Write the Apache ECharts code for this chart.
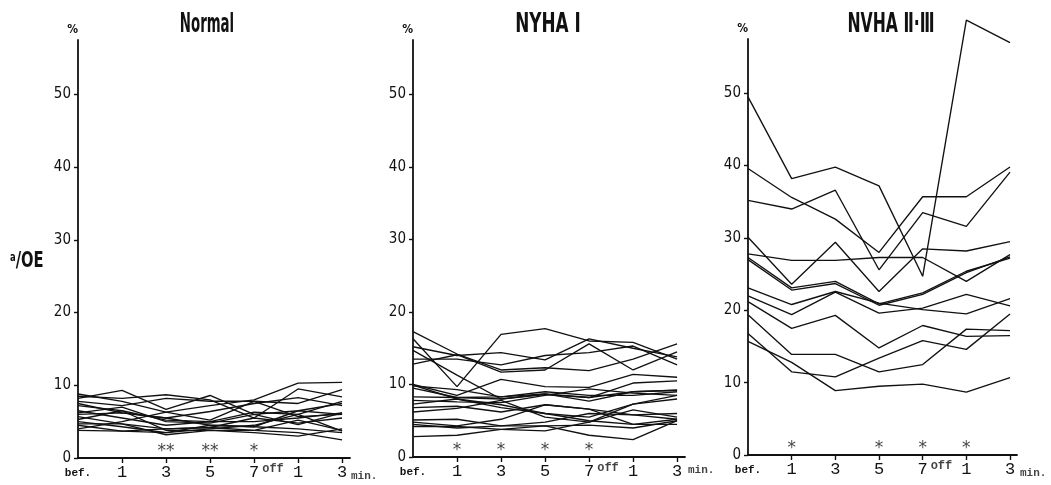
<!DOCTYPE html>
<html><head><meta charset="utf-8">
<script src="https://cdn.jsdelivr.net/npm/echarts@6/dist/echarts.min.js"></script>
<style>html,body{margin:0;padding:0;background:#fff}#c{width:1051px;height:485px}</style>
</head><body><div id="c"></div>
<script>
// ---- data ----
const xLabels = ['bef.', '1', '3', '5', '7', '1', '3'];
const yTicks = [0, 10, 20, 30, 40, 50];
const titles = ['Normal', 'NYHA Ⅰ', 'NVHA Ⅱ·Ⅲ'];
const yName = 'a/OE';

const normalLines = [
  [8.8, 7.8, 6.3, 7.2, 8.0, 10.3, 10.4],
  [8.2, 9.3, 6.7, 8.6, 6.0, 6.5, 7.5],
  [8.5, 8.2, 8.7, 8.0, 5.5, 9.5, 8.4],
  [7.8, 7.2, 8.2, 7.8, 7.8, 7.5, 9.4],
  [7.5, 6.2, 5.5, 6.4, 7.5, 8.3, 7.2],
  [7.2, 6.5, 5.2, 5.0, 6.3, 6.0, 7.8],
  [6.5, 5.5, 4.5, 5.0, 5.0, 5.5, 6.2],
  [6.0, 6.2, 5.5, 4.5, 4.3, 6.5, 6.0],
  [5.7, 4.7, 4.0, 4.2, 5.5, 4.8, 5.5],
  [5.3, 6.5, 3.8, 3.8, 3.8, 5.2, 3.8],
  [5.0, 4.3, 3.5, 4.5, 4.3, 4.0, 3.5],
  [4.7, 4.7, 3.2, 3.8, 3.5, 3.0, 4.0],
  [4.5, 3.7, 4.0, 4.2, 3.8, 3.5, 2.5],
  [4.0, 5.0, 6.3, 5.2, 7.8, 5.7, 6.0],
  [3.8, 3.7, 3.5, 4.0, 4.5, 6.0, 3.7],
  [6.2, 7.0, 5.0, 4.8, 6.0, 4.6, 6.2]
];
const nyha1Lines = [
  [16.3, 9.7, 16.9, 17.7, 16.0, 15.8, 13.5],
  [17.3, 14.2, 12.0, 12.3, 11.9, 13.5, 15.6],
  [15.2, 14.0, 14.4, 13.4, 16.3, 15.0, 13.8],
  [14.7, 11.3, 8.0, 8.6, 8.2, 9.0, 9.2],
  [13.5, 13.5, 12.7, 14.0, 14.4, 15.3, 12.7],
  [12.8, 14.1, 11.7, 12.0, 15.6, 12.0, 14.5],
  [10.0, 8.5, 10.7, 9.7, 9.6, 11.4, 11.0],
  [9.8, 9.3, 8.3, 8.7, 8.2, 10.2, 10.5],
  [9.5, 8.2, 8.0, 8.7, 7.7, 9.0, 9.2],
  [8.3, 8.2, 8.3, 9.0, 8.5, 8.5, 9.0],
  [7.8, 7.6, 7.5, 8.5, 9.4, 8.8, 8.5],
  [7.3, 8.0, 7.2, 6.0, 5.5, 7.3, 8.0],
  [6.8, 7.0, 6.2, 7.2, 6.6, 5.8, 6.0],
  [6.2, 6.7, 7.8, 5.5, 4.8, 6.5, 5.5],
  [9.9, 8.0, 6.8, 6.0, 5.0, 4.5, 5.2],
  [5.1, 5.2, 4.3, 4.8, 6.0, 5.8, 5.2],
  [4.8, 4.3, 5.2, 7.2, 6.6, 4.5, 4.5],
  [4.5, 4.0, 4.3, 4.3, 4.4, 4.0, 5.0],
  [4.2, 4.2, 3.8, 3.6, 4.8, 7.3, 8.5],
  [2.8, 3.0, 3.8, 4.3, 3.0, 2.4, 5.0]
];
const nyha23Lines = [
  [49.5, 38.2, 39.8, 37.2, 24.7, 60.1, 57.0],
  [39.6, 35.6, 32.6, 28.0, 35.7, 35.7, 39.8],
  [35.2, 34.0, 36.6, 25.6, 33.5, 31.6, 39.1],
  [30.1, 23.6, 29.4, 22.6, 28.5, 28.2, 29.5],
  [27.8, 26.9, 26.9, 27.3, 27.3, 24.0, 27.7],
  [27.3, 23.1, 24.0, 20.9, 22.4, 25.4, 27.2],
  [27.0, 22.8, 23.7, 20.7, 22.2, 25.2, 27.4],
  [23.1, 20.8, 22.6, 21.0, 20.1, 19.5, 21.6],
  [22.0, 19.4, 22.5, 19.6, 20.3, 22.2, 20.6],
  [21.2, 17.5, 19.3, 14.8, 17.9, 16.4, 16.5],
  [19.4, 13.9, 13.9, 11.5, 12.5, 17.4, 17.2],
  [16.8, 11.5, 10.8, 13.4, 15.8, 14.6, 19.5],
  [15.7, 12.8, 8.9, 9.5, 9.8, 8.7, 10.7]
];
// significance marks: [category index, mark]
const normalStars = [[2, '**'], [3, '**'], [4, '*']];
const nyha1Stars = [[1, '*'], [2, '*'], [3, '*'], [4, '*']];
const nyha23Stars = [[1, '*'], [3, '*'], [4, '*'], [5, '*']];

// ---- layout ----
const panels = [
  {lines: normalLines, stars: normalStars, grid: {left: 78, top: 40, width: 272, height: 418}, xmax: 6.18, titleX: 207, titleScale: 0.57, minDx: 1, minDy: 18},
  {lines: nyha1Lines, stars: nyha1Stars, grid: {left: 413, top: 40, width: 272, height: 417}, xmax: 6.18, titleX: 548, titleScale: 0.72, minDx: 3, minDy: 13},
  {lines: nyha23Lines, stars: nyha23Stars, grid: {left: 748, top: 39, width: 269, height: 416}, xmax: 6.16, titleX: 891, titleScale: 0.67, minDx: 3, minDy: 18}
];
const INK = '#111';
const narrow = '"Liberation Sans Narrow", "DejaVu Sans Condensed", "Arial Narrow", sans-serif';
const mono = '"Liberation Mono", "DejaVu Sans Mono", monospace';

const grids = [], xAxes = [], yAxes = [], series = [], graphics = [];
panels.forEach((p, k) => {
  grids.push(Object.assign({containLabel: false}, p.grid));
  xAxes.push({
    type: 'value', gridIndex: k, min: 0, max: p.xmax,
    axisLine: {show: true, onZero: false, lineStyle: {color: INK, width: 1.8}},
    axisTick: {show: true, customValues: [1, 2, 3, 4, 5, 6], length: 5, lineStyle: {color: INK, width: 1.4}},
    axisLabel: {
      customValues: [0, 1, 2, 3, 4, 5, 6], margin: 6,
      formatter: v => v === 0 ? '{b|' + xLabels[0] + '}' : '{n|' + xLabels[Math.round(v)] + '}',
      rich: {
        b: {fontFamily: mono, fontSize: 11, fontWeight: 'bold', color: INK, padding: [4, 0, 0, 0]},
        n: {fontFamily: mono, fontSize: 17, color: INK}
      }
    },
    splitLine: {show: false}
  });
  yAxes.push({
    type: 'value', gridIndex: k, min: 0, max: 57.5,
    name: '%', nameLocation: 'end', nameGap: 4,
    nameTextStyle: {align: 'right', fontFamily: narrow, fontWeight: 'bold', fontSize: 12, color: INK},
    axisLine: {show: true, lineStyle: {color: INK, width: 1.8}},
    axisTick: {show: true, customValues: yTicks, length: 4, lineStyle: {color: INK, width: 1.4}},
    axisLabel: {customValues: yTicks, margin: 7, fontFamily: narrow, fontSize: 15, color: INK},
    splitLine: {show: false}
  });
  p.lines.forEach(vals => {
    series.push({
      type: 'line', xAxisIndex: k, yAxisIndex: k, clip: false, silent: true,
      symbol: 'none', animation: false,
      lineStyle: {color: INK, width: 1.35},
      data: vals.map((v, i) => [i, v])
    });
  });
  // stars, "off", "min."
  series.push({
    type: 'scatter', xAxisIndex: k, yAxisIndex: k, symbolSize: 0, silent: true, animation: false, clip: false,
    label: {show: true, position: 'inside', formatter: q => q.data[2], fontFamily: '"DejaVu Sans", sans-serif', fontSize: 17, color: INK, offset: [0, 4]},
    data: p.stars.map(s => [s[0], 1.4, s[1]])
  });
  series.push({
    type: 'scatter', xAxisIndex: k, yAxisIndex: k, symbolSize: 0, silent: true, animation: false, clip: false,
    label: {show: true, position: 'inside', formatter: q => q.data[2], fontFamily: mono, fontSize: 12, fontWeight: 'bold', color: INK, offset: [0, 11]},
    data: [[4.43, 0, 'off']]
  });
  series.push({
    type: 'scatter', xAxisIndex: k, yAxisIndex: k, symbolSize: 0, silent: true, animation: false, clip: false,
    label: {show: true, position: 'inside', align: 'left', formatter: q => q.data[2], fontFamily: mono, fontSize: 11, fontWeight: 'bold', color: INK, offset: [p.minDx, p.minDy]},
    data: [[p.xmax, 0, 'min.']]
  });
  graphics.push({
    type: 'text', x: p.titleX, y: 25, scaleX: p.titleScale, silent: true,
    style: {text: titles[k], textAlign: 'center', textVerticalAlign: 'middle', fill: INK,
            font: 'bold 26px ' + narrow}
  });
});
graphics.push({
  type: 'text', x: 10, y: 262, scaleX: 0.78, silent: true,
  style: {text: '{a|a}{b|/OE}', textVerticalAlign: 'middle', fill: INK,
          rich: {a: {fontFamily: narrow, fontSize: 12, fontWeight: 'bold', padding: [0, 0, 8, 0]},
                 b: {fontFamily: narrow, fontSize: 21, fontWeight: 'bold'}}}
});

const chart = echarts.init(document.getElementById('c'), null, {renderer: 'canvas'});
chart.setOption({
  backgroundColor: '#fff',
  animation: false,
  grid: grids, xAxis: xAxes, yAxis: yAxes, series: series, graphic: graphics
});
</script></body></html>
